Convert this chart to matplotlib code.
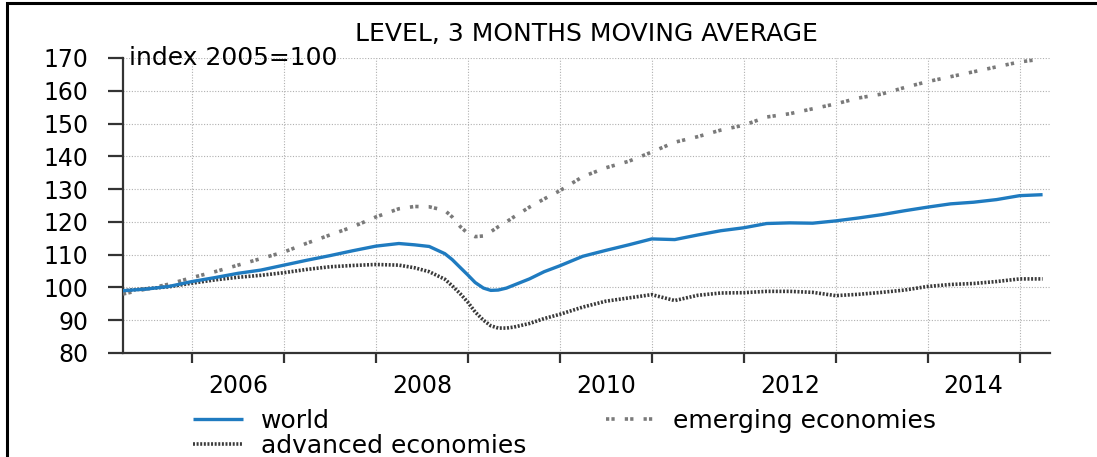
import matplotlib as mpl
mpl.use('Agg')

import numpy as np
import matplotlib.pyplot as plt
from matplotlib.patches import Rectangle

# readings in decimal years: quarterly, monthly around the 2008/09 slump
t = [2005.25, 2005.5, 2005.75, 2006.0, 2006.25, 2006.5, 2006.75, 2007.0,
     2007.25, 2007.5, 2007.75, 2008.0, 2008.25,
     2008.42, 2008.58, 2008.75, 2008.83, 2008.92, 2009.0, 2009.08, 2009.17,
     2009.25, 2009.33, 2009.42, 2009.5, 2009.67, 2009.83, 2010.0,
     2010.25, 2010.5, 2010.75, 2011.0, 2011.25, 2011.5, 2011.75, 2012.0,
     2012.25, 2012.5, 2012.75, 2013.0, 2013.25, 2013.5, 2013.75, 2014.0,
     2014.25, 2014.5, 2014.75, 2015.0, 2015.25]

world = [99.0, 99.5, 100.3, 101.8, 103.0, 104.3, 105.3, 106.8,
         108.3, 109.7, 111.2, 112.6, 113.4,
         113.0, 112.5, 110.3, 108.5, 106.0, 103.8, 101.5, 99.8,
         99.1, 99.2, 99.8, 100.7, 102.6, 104.8, 106.6,
         109.5, 111.3, 113.0, 114.8, 114.6, 116.0, 117.3, 118.2,
         119.5, 119.7, 119.6, 120.3, 121.2, 122.2, 123.4, 124.5,
         125.5, 126.0, 126.8, 128.0, 128.3]

advanced = [99.0, 99.6, 100.2, 101.3, 102.3, 103.1, 103.7, 104.5,
            105.5, 106.3, 106.7, 107.0, 106.8,
            106.0, 104.8, 102.5, 100.5, 98.0, 95.5, 92.5, 90.0,
            88.3, 87.6, 87.6, 87.9, 89.0, 90.5, 91.8,
            94.0, 95.8, 96.8, 97.8, 96.0, 97.6, 98.3, 98.4,
            98.8, 98.8, 98.5, 97.5, 97.9, 98.5, 99.2, 100.3,
            100.9, 101.2, 101.8, 102.6, 102.6]

emerging = [98.0, 99.5, 101.0, 103.0, 104.8, 106.8, 108.8, 110.8,
            113.5, 116.0, 118.5, 121.5, 124.0,
            124.7, 124.6, 123.5, 121.5, 118.5, 116.5, 115.5, 115.7,
            117.0, 118.5, 120.0, 121.5, 124.5, 127.0, 129.5,
            133.8, 136.5, 138.5, 141.3, 144.3, 146.0, 148.0, 149.5,
            152.0, 153.0, 154.5, 156.0, 157.8, 159.0, 161.0, 162.8,
            164.3, 165.8, 167.3, 168.8, 169.7]

years = list(range(2006, 2016))
year_labels = [str(y) if y % 2 == 0 else "" for y in range(2006, 2015)]

plt.rcParams['font.family'] = ['DejaVu Sans']

fig = plt.figure(figsize=(10.97, 4.57), dpi=100)
ax = fig.add_axes([0.1121, 0.2276, 0.8450, 0.6455])

ax.plot(t, world, color="#1f7bc0", linewidth=2.4, solid_capstyle='butt',
        label="world", zorder=4)
ax.plot(t, advanced, color="#3a3a3a", linewidth=2.6, linestyle=(0, (0.55, 0.45)),
        label="advanced economies", zorder=3)
ax.plot(t, emerging, color="#7a7a7a", linewidth=2.6,
        linestyle=(0, (0.9, 0.6, 0.9, 2.8)), label="emerging economies", zorder=3)

ax.set_xlim(2005.25, 2015.33)
ax.set_ylim(80, 170)

# year boundary ticks, labels mid-year
ax.set_xticks(years)
ax.set_xticklabels([])
ax.set_xticks([y + 0.5 for y in range(2006, 2015)], minor=True)
ax.set_xticklabels(year_labels, minor=True)
ax.tick_params(axis='x', which='major', length=7, width=1.6, color="#333333")
ax.tick_params(axis='x', which='minor', length=0, pad=15, labelsize=17)

ax.set_yticks(np.arange(80, 171, 10))
ax.tick_params(axis='y', length=11, width=1.6, color="#333333", pad=14, labelsize=17)

ax.grid(True, which='major', color="#b0b0b0", linestyle=(0, (1, 1.5)), linewidth=0.8)
ax.set_axisbelow(True)

for s in ['top', 'right']:
    ax.spines[s].set_visible(False)
for s in ['left', 'bottom']:
    ax.spines[s].set_color("#333333")
    ax.spines[s].set_linewidth(1.6)

ax.text(0.006, 170, "index 2005=100", fontsize=18, va='center', ha='left',
        transform=ax.get_yaxis_transform())

ax.set_title("LEVEL, 3 MONTHS MOVING AVERAGE", fontsize=18, pad=12)

fig.legend(loc='upper left', bbox_to_anchor=(0.176, 0.106), ncol=2,
           frameon=False, fontsize=18, handlelength=2.0, handletextpad=0.7,
           columnspacing=3.2, labelspacing=0.05, borderpad=0, borderaxespad=0)

# outer frame around the whole picture
fig.patches.append(Rectangle((0.0064, -0.01), 1.2, 1.003, transform=fig.transFigure,
                             fill=False, edgecolor="black", linewidth=2.2))

plt.savefig("out.png", dpi=100)
